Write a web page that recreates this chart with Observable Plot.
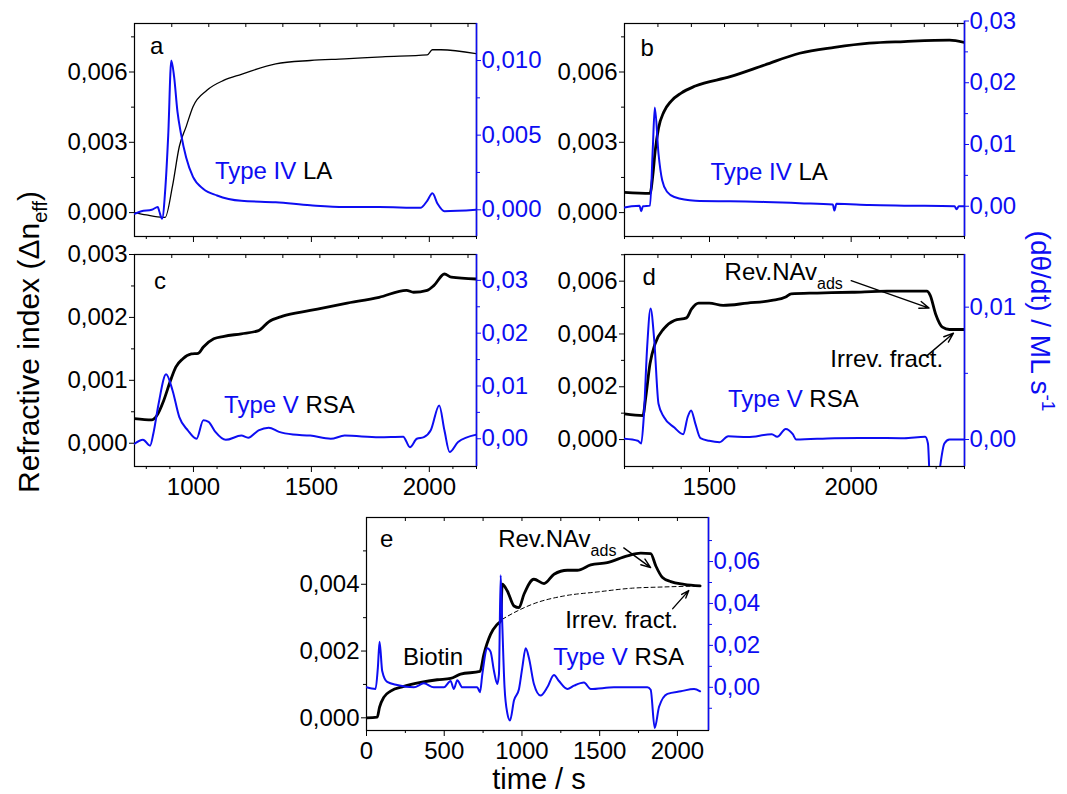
<!DOCTYPE html>
<html>
<head>
<meta charset="utf-8">
<script src="https://cdn.jsdelivr.net/npm/d3@7"></script>
<script src="https://cdn.jsdelivr.net/npm/@observablehq/plot@0.6"></script>
<style>
  html, body { margin: 0; padding: 0; background: #fff; }
  #root { position: relative; width: 1067px; height: 794px; overflow: hidden; background: #fff; }
  .layer { position: absolute; }
</style>
</head>
<body>
<div id="root"></div>
<script>
// ---------------- DATA ----------------
// Panel a: Type IV, LA
const aBlackT = [750, 800, 870, 880, 911, 940, 969, 998, 1057, 1130, 1203, 1349, 1495, 1641, 1800, 1991, 2013, 2049, 2200];
const aBlackV = [0.0, -0.0001, -0.0002, -0.0002, 0.00113, 0.00282, 0.00367, 0.00452, 0.00522, 0.00565, 0.0059, 0.00635, 0.00649, 0.00656, 0.00665, 0.00673, 0.00695, 0.00695, 0.00678];
const aBlueT = [750, 779, 823, 849, 855, 867, 881, 893, 906, 918, 932, 947, 969, 998, 1042, 1100, 1203, 1349, 1495, 1641, 1787, 1962, 1991, 2013, 2035, 2064, 2200];
const aBlueV = [-0.00027, -0.0001, 0.0, 0.00018, -0.0001, -0.0006, 0.0015, 0.005, 0.0100, 0.0089, 0.0066, 0.0051, 0.0035, 0.0022, 0.0014, 0.00096, 0.0006, 0.0005, 0.0003, 0.00018, 0.00018, 0.00013, 0.0006, 0.0011, 0.0004, -0.0001, 0.0];

// Panel b: Type IV, LA
const bBlackT = [1200, 1290, 1300, 1308, 1320, 1339, 1364, 1400, 1450, 1573, 1695, 1818, 1941, 2064, 2187, 2347, 2400];
const bBlackV = [0.00086, 0.00082, 0.0016, 0.0026, 0.0036, 0.0043, 0.00475, 0.0051, 0.0054, 0.0058, 0.0063, 0.0068, 0.00705, 0.00723, 0.0073, 0.00736, 0.00726];
const bBlueT = [1200, 1225, 1253, 1259, 1265, 1290, 1300, 1307, 1320, 1333, 1351, 1376, 1450, 1573, 1695, 1818, 1935, 1941, 1948, 2064, 2187, 2365, 2372, 2380, 2400];
const bBlueV = [-0.0002, 0.0, 0.0001, -0.0008, 0.0, 0.0001, 0.0095, 0.016, 0.0085, 0.0042, 0.0023, 0.0015, 0.0009, 0.0008, 0.0007, 0.0005, 0.0003, -0.0007, 0.0004, 0.0002, 0.0001, 0.0, -0.0005, 0.0, 0.0];

// Panel c: Type V, RSA
const cBlackT = [750, 823, 845, 874, 903, 925, 954, 991, 1020, 1042, 1086, 1130, 1203, 1276, 1319, 1378, 1495, 1641, 1787, 1903, 1933, 1991, 2020, 2064, 2093, 2200];
const cBlackV = [0.00039, 0.00037, 0.00044, 0.00068, 0.001, 0.00121, 0.00134, 0.00142, 0.00143, 0.00153, 0.00166, 0.0017, 0.00174, 0.00179, 0.00193, 0.00202, 0.00211, 0.00222, 0.00232, 0.00243, 0.0024, 0.00243, 0.00251, 0.00269, 0.00264, 0.00261];
const cBlueT = [750, 786, 816, 830, 852, 884, 911, 940, 976, 1013, 1042, 1064, 1093, 1137, 1203, 1232, 1276, 1319, 1363, 1422, 1495, 1582, 1641, 1787, 1889, 1918, 1947, 1977, 2006, 2042, 2064, 2086, 2122, 2200];
const cBlueV = [-0.00095, -0.0002, -0.0013, 0.001, 0.0066, 0.0122, 0.0092, 0.0041, 0.0016, 0.0, 0.0035, 0.0032, 0.0013, -0.0002, 0.0006, 0.0002, 0.0016, 0.0021, 0.0013, 0.0008, 0.0006, 0.0, 0.0006, 0.0003, 0.0004, -0.0016, 0.0, 0.0003, 0.0016, 0.0063, 0.0016, -0.0025, -0.0006, 0.0008];

// Panel d: Type V, RSA
const dBlackT = [1200, 1265, 1275, 1290, 1308, 1339, 1376, 1419, 1437, 1462, 1499, 1548, 1634, 1720, 1769, 1788, 1880, 2003, 2126, 2267, 2279, 2298, 2322, 2347, 2400];
const dBlackV = [0.00097, 0.00091, 0.0016, 0.00287, 0.00363, 0.0042, 0.00451, 0.00461, 0.00495, 0.00517, 0.00517, 0.00508, 0.00517, 0.00527, 0.0054, 0.00552, 0.00555, 0.00558, 0.00562, 0.00562, 0.00546, 0.00476, 0.00426, 0.00417, 0.00417];
const dBlueT = [1200, 1247, 1259, 1268, 1280, 1292, 1305, 1320, 1339, 1376, 1407, 1423, 1435, 1450, 1468, 1499, 1536, 1566, 1634, 1720, 1739, 1769, 1794, 1806, 1941, 2064, 2187, 2261, 2271, 2279, 2304, 2310, 2329, 2347, 2400];
const dBlueV = [0.00005, -0.0001, -0.0003, 0.0017, 0.007, 0.0099, 0.0075, 0.0027, 0.0017, 0.0009, 0.0004, 0.0017, 0.0022, 0.0012, 0.0001, -0.0001, -0.0002, 0.00025, 0.00018, 0.0004, 0.0002, 0.0008, 0.0004, 0.0, 0.0001, 0.00012, 0.0001, 0.0002, -0.0003, -0.0034, -0.0034, -0.0026, -0.0003, 0.0, 0.0];

// Panel e: Biotin then Type V, RSA
const eBlackT = [0, 69, 84, 112, 155, 240, 348, 455, 541, 605, 730, 755, 798, 841, 863, 873, 906, 949, 981, 1013, 1077, 1142, 1206, 1292, 1356, 1442, 1549, 1678, 1764, 1828, 1861, 1904, 1957, 2043, 2146];
const eBlackV = [0.0, 0.00002, 0.00032, 0.00062, 0.0008, 0.00094, 0.00106, 0.00114, 0.00118, 0.00131, 0.00139, 0.0019, 0.0025, 0.0028, 0.0029, 0.004, 0.0038, 0.00335, 0.0033, 0.0037, 0.00415, 0.00402, 0.0043, 0.00442, 0.00442, 0.00458, 0.00465, 0.00485, 0.00493, 0.00492, 0.00455, 0.0042, 0.00408, 0.004, 0.00395];
const eDashT = [873, 949, 1077, 1270, 1485, 1700, 1915, 2146];
const eDashV = [0.00295, 0.00315, 0.00342, 0.00365, 0.00377, 0.00388, 0.00392, 0.00395];
const eBlueT = [0, 58, 73, 84, 101, 133, 197, 305, 369, 433, 498, 541, 562, 584, 616, 712, 730, 745, 777, 798, 820, 841, 852, 863, 873, 888, 906, 923, 949, 981, 1002, 1024, 1045, 1077, 1120, 1163, 1206, 1238, 1292, 1335, 1399, 1442, 1592, 1807, 1828, 1854, 1882, 1936, 2022, 2107, 2146];
const eBlueV = [0.0, -0.0008, 0.0093, 0.0217, 0.0078, 0.0026, 0.0011, 0.0, 0.0019, 0.0, 0.0, 0.003, -0.0008, 0.0034, 0.0, 0.0, -0.0023, 0.0062, 0.0186, 0.017, 0.0078, 0.0016, 0.0062, 0.0535, 0.031, 0.0, -0.0124, -0.0158, -0.0062, -0.0008, 0.0093, 0.0186, 0.014, 0.0016, -0.0039, 0.0, 0.0059, 0.003, -0.0008, 0.0008, 0.0023, -0.0008, 0.0, 0.0, -0.0012, -0.0194, -0.0093, -0.0031, -0.0019, -0.0008, -0.0019];

// Tick values
const ticksIndexAB = [0, 0.003, 0.006];
const minorIndexAB = [0.0015, 0.0045, 0.0075];
const ticksIndexC = [0, 0.001, 0.002, 0.003];
const minorIndexC = [0.0005, 0.0015, 0.0025];
const ticksIndexD = [0, 0.002, 0.004, 0.006];
const minorIndexD = [0.001, 0.003, 0.005, 0.007];
const ticksIndexE = [0, 0.002, 0.004];
const minorIndexE = [0.001, 0.003, 0.005];
const ticksRateA = [0, 0.005, 0.010];
const minorRateA = [0.0025, 0.0075];
const ticksRateB = [0, 0.01, 0.02, 0.03];
const minorRateB = [0.005, 0.015, 0.025];
const ticksRateC = [0, 0.01, 0.02, 0.03];
const minorRateC = [0.005, 0.015, 0.025];
const ticksRateD = [0, 0.01];
const minorRateD = [0.005];
const ticksRateE = [0, 0.02, 0.04, 0.06];
const minorRateE = [-0.01, 0.01, 0.03, 0.05, 0.07];
const timeMajorAC = [1000, 1500, 2000];
const timeMinorAC = [800, 900, 1100, 1200, 1300, 1400, 1600, 1700, 1800, 1900, 2100, 2200];
const timeTopAC = [908, 1065, 1222, 1379, 1536, 1693, 1850, 2007, 2164];
const timeMajorBD = [1500, 2000];
const timeMinorBD = [1200, 1300, 1400, 1600, 1700, 1800, 1900, 2100, 2200, 2300, 2400];
const timeTopBD = [1318, 1436, 1553, 1671, 1788, 1906, 2023, 2141, 2258, 2376];
const timeMajorE = [0, 500, 1000, 1500, 2000];
const timeMinorE = [250, 750, 1250, 1750];
const timeTopE = [250, 500, 750, 1000, 1250, 1500, 1750, 2000];

// ---------------- LAYOUT / STYLE ----------------
const FONT = '"Liberation Sans", Arial, Helvetica, sans-serif';
const BLUE = "#0d0df2";
const ML = 110, MR = 90, MT = 14, MB = 50;
const comma = (n) => (d) => d.toFixed(n).replace(".", ",");
const blank = () => "";

const panels = [
  { frame: [134, 476, 23, 236], xDomain: [750, 2200], yDomain: [-0.00102, 0.00807], y2Domain: [-0.00179, 0.01248],
    bt: aBlackT, bv: aBlackV, ut: aBlueT, uv: aBlueV, bw: 1.3,
    yTicks: ticksIndexAB, yMinor: minorIndexAB, y2Ticks: ticksRateA, y2Minor: minorRateA, y2Dec: 3,
    xMajor: timeMajorAC, xMinor: timeMinorAC, xTop: timeTopAC, xLabels: false,
    labels: [
      { t: 818, v: 0.00674, parts: [{ t: "a" }] },
      { t: 1093, v: 0.00141, parts: [{ t: "Type IV", c: BLUE }, { t: " LA" }] }
    ] },
  { frame: [624, 964, 23, 236], y2Top: 20.5, xDomain: [1200, 2400], yDomain: [-0.00102, 0.00807], y2Domain: [-0.0049, 0.030],
    bt: bBlackT, bv: bBlackV, ut: bBlueT, uv: bBlueV, bw: 2.8,
    yTicks: ticksIndexAB, yMinor: minorIndexAB, y2Ticks: ticksRateB, y2Minor: minorRateB, y2Dec: 2,
    xMajor: timeMajorBD, xMinor: timeMinorBD, xTop: timeTopBD, xLabels: false,
    labels: [
      { t: 1258, v: 0.00668, parts: [{ t: "b" }] },
      { t: 1505, v: 0.00138, parts: [{ t: "Type IV", c: BLUE }, { t: " LA" }] }
    ] },
  { frame: [134, 476, 254, 466], xDomain: [750, 2200], yDomain: [-0.00037, 0.003], y2Domain: [-0.00525, 0.0349],
    bt: cBlackT, bv: cBlackV, ut: cBlueT, uv: cBlueV, bw: 2.8,
    yTicks: ticksIndexC, yMinor: minorIndexC, y2Ticks: ticksRateC, y2Minor: minorRateC, y2Dec: 2,
    xMajor: timeMajorAC, xMinor: timeMinorAC, xTop: timeTopAC, xLabels: true,
    labels: [
      { t: 835, v: 0.00244, parts: [{ t: "c" }] },
      { t: 1132, v: 0.000477, parts: [{ t: "Type V", c: BLUE }, { t: " RSA" }] }
    ] },
  { frame: [624, 964, 254, 466], xDomain: [1200, 2400], yDomain: [-0.00102, 0.00701], y2Domain: [-0.00204, 0.01398],
    bt: dBlackT, bv: dBlackV, ut: dBlueT, uv: dBlueV, bw: 2.8,
    yTicks: ticksIndexD, yMinor: minorIndexD, y2Ticks: ticksRateD, y2Minor: minorRateD, y2Dec: 2,
    xMajor: timeMajorBD, xMinor: timeMinorBD, xTop: timeTopBD, xLabels: true,
    labels: [
      { t: 1265, v: 0.00583, parts: [{ t: "d" }] },
      { t: 1567, v: 0.00122, parts: [{ t: "Type V", c: BLUE }, { t: " RSA" }] },
      { t: 1555, v: 0.00602, parts: [{ t: "Rev.NAv" }, { t: "ads", s: 16, dy: 9 }] },
      { t: 1928, v: 0.00274, parts: [{ t: "Irrev. fract." }] }
    ],
    arrows: [
      { t1: 2000, v1: 0.00602, t2: 2275, v2: 0.00498 },
      { t1: 2267, v1: 0.00317, t2: 2361, v2: 0.00403 }
    ] },
  { frame: [366, 708, 517, 730], xDomain: [0, 2200], yDomain: [-0.00038, 0.006], y2Domain: [-0.0206, 0.081],
    bt: eBlackT, bv: eBlackV, ut: eBlueT, uv: eBlueV, bw: 2.8, dt: eDashT, dv: eDashV,
    yTicks: ticksIndexE, yMinor: minorIndexE, y2Ticks: ticksRateE, y2Minor: minorRateE, y2Dec: 2,
    xMajor: timeMajorE, xMinor: timeMinorE, xTop: timeTopE, xLabels: true,
    labels: [
      { t: 90, v: 0.0051, parts: [{ t: "e" }] },
      { t: 238, v: 0.00156, parts: [{ t: "Biotin" }] },
      { t: 1204, v: 0.00156, parts: [{ t: "Type V", c: BLUE }, { t: " RSA" }] },
      { t: 850, v: 0.0051, parts: [{ t: "Rev.NAv" }, { t: "ads", s: 16, dy: 9 }] },
      { t: 1281, v: 0.00267, parts: [{ t: "Irrev. fract." }] }
    ],
    arrows: [
      { t1: 1655, v1: 0.00509, t2: 1828, v2: 0.0045 },
      { t1: 1970, v1: 0.00327, t2: 2073, v2: 0.00381 }
    ] }
];

const root = document.getElementById("root");

function place(el, left, top, w, h) {
  const div = document.createElement("div");
  div.className = "layer";
  div.style.left = left + "px";
  div.style.top = top + "px";
  div.style.width = w + "px";
  div.style.height = h + "px";
  div.appendChild(el);
  root.appendChild(div);
}

function build(p) {
  const [fx0, fx1, fy0, fy1] = p.frame;
  const fw = fx1 - fx0, fh = fy1 - fy0;
  const W = fw + ML + MR, H = fh + MT + MB;
  const base = { width: W, height: H, marginLeft: ML, marginRight: MR, marginBottom: MB };

  const blackPts = p.bt.map((t, i) => [t, p.bv[i]]);
  const bluePts = p.ut.map((t, i) => [t, p.uv[i]]);

  const marks = [
    Plot.axisY({ anchor: "left", ticks: p.yMinor, tickSize: 3, tickFormat: blank, label: null }),
    Plot.axisY({ anchor: "left", ticks: p.yTicks, tickSize: 5, tickPadding: 2, tickFormat: comma(3), label: null }),
    Plot.axisX({ anchor: "bottom", ticks: p.xMinor, tickSize: 3, tickFormat: blank, label: null }),
    Plot.axisX({ anchor: "bottom", ticks: p.xMajor, tickSize: 6, tickPadding: 5, tickFormat: p.xLabels ? (d => String(d)) : blank, label: null }),
    // inward ticks hanging from the top edge of the frame
    Plot.tickX(p.xTop, { x: d => d, insetBottom: fh - 4, stroke: "black", strokeWidth: 1 }),
    Plot.frame({ stroke: "black", strokeWidth: 1.2 })
  ];
  if (p.dt) {
    marks.push(Plot.line(p.dt.map((t, i) => [t, p.dv[i]]), { stroke: "black", strokeWidth: 1, strokeDasharray: "4,3", curve: "monotone-x", clip: true }));
  }
  marks.push(Plot.line(blackPts, { stroke: "black", strokeWidth: p.bw, curve: "monotone-x", clip: true }));
  if (p.arrows) {
    marks.push(Plot.arrow(p.arrows, { x1: "t1", y1: "v1", x2: "t2", y2: "v2", stroke: "black", strokeWidth: 1.4, headLength: 11, headAngle: 40 }));
  }

  const left = Plot.plot({
    ...base,
    marginTop: MT,
    style: { background: "transparent", overflow: "visible", fontFamily: FONT, fontSize: "24px", color: "black" },
    x: { domain: p.xDomain, label: null },
    y: { domain: p.yDomain, label: null },
    marks
  });

  // text annotations positioned through the plot's own scales
  const sx = left.scale("x"), sy = left.scale("y");
  for (const lab of p.labels) {
    const txt = d3.select(left).append("text")
      .attr("x", sx.apply(lab.t)).attr("y", sy.apply(lab.v))
      .attr("text-anchor", "start").attr("font-size", 24).attr("font-family", FONT)
      .style("white-space", "pre");
    for (const part of lab.parts) {
      const ts = txt.append("tspan").attr("fill", part.c || "black").text(part.t);
      if (part.s) ts.attr("font-size", part.s);
      if (part.dy) ts.attr("dy", part.dy);
    }
  }

  const mt2 = p.y2Top !== undefined ? MT - (fy0 - p.y2Top) : MT;
  const right = Plot.plot({
    ...base,
    marginTop: mt2,
    style: { background: "transparent", overflow: "visible", fontFamily: FONT, fontSize: "24px", color: BLUE },
    x: { domain: p.xDomain, label: null, axis: null },
    y: { domain: p.y2Domain, label: null },
    marks: [
      Plot.line(bluePts, { stroke: BLUE, strokeWidth: 2, curve: "monotone-x", clip: true }),
      Plot.axisY({ anchor: "right", ticks: p.y2Minor, tickSize: 3, tickFormat: blank, label: null }),
      Plot.axisY({ anchor: "right", ticks: p.y2Ticks, tickSize: 4, tickPadding: 1, tickFormat: comma(p.y2Dec), label: null }),
      Plot.ruleX([p.xDomain[1]], { stroke: BLUE, strokeWidth: 1.6 })
    ]
  });

  place(left, fx0 - ML, fy0 - MT, W, H);
  place(right, fx0 - ML, fy0 - MT, W, H);
}

panels.forEach(build);

// global axis titles
const over = d3.create("svg").attr("width", 1067).attr("height", 794)
  .style("position", "absolute").style("left", "0px").style("top", "0px")
  .style("pointer-events", "none").attr("font-family", FONT);

const yt = over.append("text").attr("transform", "translate(39,342) rotate(-90)")
  .attr("text-anchor", "middle").attr("font-size", 30).attr("fill", "black");
yt.append("tspan").text("Refractive index (Δn");
yt.append("tspan").attr("font-size", 20).attr("dy", 8).text("eff");
yt.append("tspan").attr("dy", -8).text(")");

const y2t = over.append("text").attr("transform", "translate(1031,321) rotate(90)")
  .attr("text-anchor", "middle").attr("font-size", 28).attr("fill", BLUE);
y2t.append("tspan").text("(dθ/dt) / ML s");
y2t.append("tspan").attr("font-size", 19).attr("dy", -11).text("-1");

over.append("text").attr("x", 539).attr("y", 789).attr("text-anchor", "middle")
  .attr("font-size", 29).attr("fill", "black").text("time / s");

root.appendChild(over.node());
</script>
</body>
</html>
